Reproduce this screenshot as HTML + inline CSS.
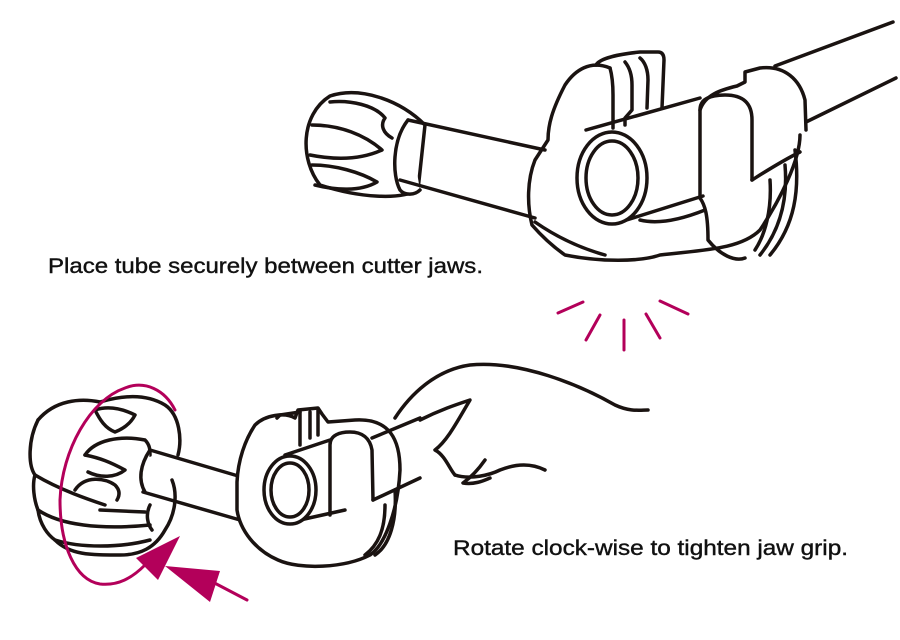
<!DOCTYPE html>
<html><head><meta charset="utf-8"><style>
body{margin:0;background:#fff;}
svg{display:block}
text{font-family:"Liberation Sans",Arial,sans-serif;font-size:21px;fill:#111;stroke:#111;stroke-width:0.4}
</style></head><body>
<svg width="900" height="640" viewBox="0 0 900 640" xmlns="http://www.w3.org/2000/svg">
<g fill="none" stroke="#1a1311" stroke-width="3.5" stroke-linecap="round" stroke-linejoin="round">
<path d="M775,66 L893,22"/>
<path d="M806,122 L896,78"/>
<path d="M330,96 C360,86 400,100 425,125 L418,190 C400,200 360,198 320,185 C300,160 300,115 330,96 Z" fill="#fff"/>
<path d="M330,102 C350,100 375,105 385,118 C380,125 383,133 392,138"/>
<path d="M312,125 C340,125 365,135 382,150 C360,160 335,160 310,155"/>
<path d="M312,165 C335,165 360,172 377,182 C360,192 335,190 315,185"/>
<path d="M408,120 C392,140 392,175 400,190 C405,196 415,195 420,190" fill="#fff"/>
<path d="M408,120 L545,150"/>
<path d="M400,180 L535,218"/>
<path d="M596,65 C600,58 620,54 640,52 L658,52 C663,52 664,56 664,60 L662,108"/>
<path d="M640,58 C645,62 648,70 648,80 L647,108"/>
<path d="M625,62 C630,68 632,75 632,85 L632,110 L625,118 L625,125"/>
<path d="M610,68 C612,75 613,85 613,95 L613,128"/>
<path d="M610,68 C590,60 575,70 565,85 C552,110 548,125 548,140 L535,160 C527,180 527,205 532,225 C545,240 555,248 565,255 C600,262 640,262 660,255 C700,250 740,250 760,230 C780,200 800,160 800,135" />
<path d="M535,222 C558,238 580,248 605,255"/>
<path d="M586,130 L700,98"/>
<path d="M620,222 L703,196"/>
<path d="M640,220 C660,225 685,218 705,210"/>
<ellipse cx="612" cy="178" rx="35" ry="46" fill="#fff"/>
<ellipse cx="612" cy="178" rx="26" ry="37"/>
<path d="M700,198 L700,110 C700,98 712,95 725,95 C745,95 752,105 752,120 L752,180"/>
<path d="M700,198 C705,205 708,215 708,240 C720,255 735,262 745,258"/>
<path d="M700,110 C705,95 720,90 737,86 L745,82 L745,72 L760,68 C785,65 800,80 805,100 L806,130"/>
<path d="M752,180 C760,175 780,162 800,152"/>
<path d="M770,180 C772,210 765,235 755,250"/>
<path d="M785,165 C788,200 780,230 760,255"/>
<path d="M795,150 C800,190 795,225 770,255"/>
<path d="M38,420 C55,400 80,398 100,402 C120,396 145,393 165,405 C180,415 182,440 178,455" fill="#fff"/>
<path d="M38,420 C28,440 28,465 35,475 C32,485 34,500 38,510 C40,525 48,535 55,540 C70,555 90,555 120,555 C140,555 155,548 165,530 C175,515 178,495 172,480"/>
<path d="M35,475 C60,490 90,500 105,505"/>
<path d="M38,510 C60,525 100,530 150,525"/>
<path d="M55,540 C80,548 120,548 150,540"/>
<path d="M95,410 C110,405 125,410 135,415 C130,425 120,430 115,432 C105,428 100,420 95,410 Z"/>
<path d="M85,455 C95,440 120,435 145,440 C150,445 150,450 150,455"/>
<path d="M85,455 C100,458 110,462 125,470 C115,478 100,478 88,472"/>
<path d="M75,490 C85,475 105,478 115,485 C120,490 120,495 117,500"/>
<path d="M100,510 L145,512"/>
<path d="M150,505 C145,515 148,525 152,530"/>
<path d="M150,450 C140,465 138,480 145,492" fill="#fff"/>
<path d="M150,450 L245,478"/>
<path d="M143,492 L240,520"/>
<path d="M237,482 C238,460 245,440 255,425 C265,415 285,412 295,418 L298,410 L318,408 L322,414 L328,422 L355,420 C390,418 400,440 400,470 C398,510 385,545 370,555 C345,568 300,570 278,560 C255,550 240,530 237,510 Z" fill="#fff"/>
<path d="M277,418 L280,415 L300,412"/>
<path d="M300,412 L300,445"/>
<path d="M310,412 L310,438"/>
<path d="M318,410 L318,435"/>
<path d="M285,455 L330,440"/>
<path d="M300,520 L345,510"/>
<ellipse cx="290" cy="490" rx="26" ry="34" fill="#fff"/>
<ellipse cx="290" cy="490" rx="19" ry="27"/>
<path d="M330,515 L330,445 C330,435 340,432 350,432 C362,432 370,438 372,450 L373,500"/>
<path d="M373,500 L420,478"/>
<path d="M385,505 C385,530 378,545 365,555"/>
<path d="M395,490 C397,520 390,545 375,555"/>
<path d="M372,438 L420,418"/>
<path d="M395,418 C410,395 435,370 470,365 C520,360 580,385 615,405 C630,412 640,410 648,410"/>
<path d="M420,420 C440,410 455,405 470,400 C458,420 448,440 435,450 C445,455 450,470 455,475"/>
<path d="M455,475 C470,480 490,475 500,470 C520,462 535,465 545,470"/>
<path d="M485,460 C478,470 470,478 463,483 C475,485 485,480 490,478"/>
</g>
<g stroke="#b3005a" stroke-width="3" fill="none" stroke-linecap="round">
<path d="M558,313 L583,302"/>
<path d="M586,340 L600,315"/>
<path d="M624,350 L624,320"/>
<path d="M660,338 L646,314"/>
<path d="M688,314 L660,301"/>
<path d="M175,410 C165,390 145,380 125,388 C90,400 62,450 60,500 C60,545 75,580 100,584 C118,586 132,578 145,565"/>
<path d="M247,600 L205,578"/>
</g>
<g fill="#b3005a">
<polygon points="180,536 136,558 158,580"/>
<polygon points="165,566 220,571 210,602"/>
</g>
<text x="48" y="273" textLength="435" lengthAdjust="spacingAndGlyphs">Place tube securely between cutter jaws.</text>
<text x="453" y="555" textLength="395" lengthAdjust="spacingAndGlyphs">Rotate clock-wise to tighten jaw grip.</text>
</svg>
</body></html>
